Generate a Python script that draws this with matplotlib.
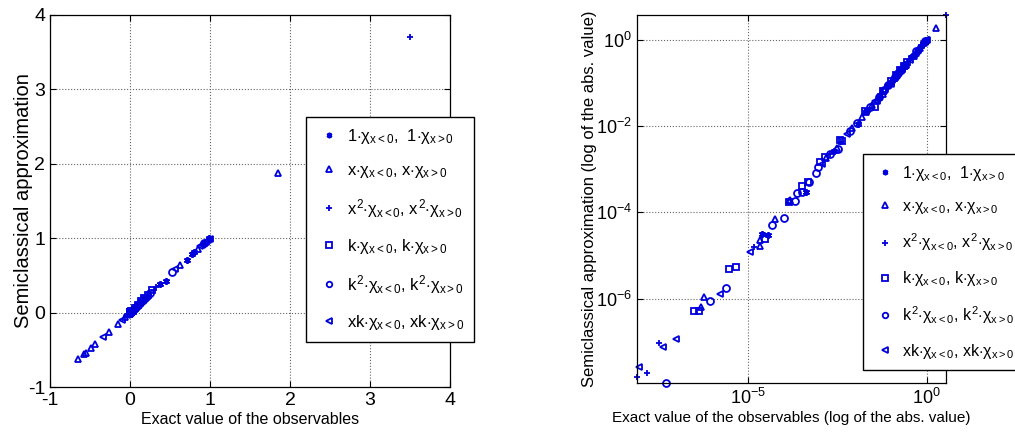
import numpy as np
import matplotlib
matplotlib.use("Agg")
import matplotlib.pyplot as plt

plt.rcParams["font.family"] = ["Liberation Sans", "DejaVu Sans"]
plt.rcParams["mathtext.fontset"] = "custom"
plt.rcParams["mathtext.rm"] = "Liberation Sans"
plt.rcParams["mathtext.it"] = "Liberation Sans"
plt.rcParams["mathtext.bf"] = "Liberation Sans:bold"
plt.rcParams["axes.unicode_minus"] = False

# exact value / semiclassical approximation for each observable family
one_exact = [2.4e-5, 3.5e-5, 4.2e-4, 0.0025, 0.012, 0.022, 0.05, 0.08, 0.12,
             0.17, 0.21, 0.375, 0.45, 0.71, 0.78, 0.80, 0.93, 0.99]
one_approx = [3.2e-5, 3.0e-5, 3.0e-4, 0.0027, 0.011, 0.024, 0.052, 0.083,
              0.125, 0.18, 0.215, 0.39, 0.43, 0.71, 0.79, 0.81, 0.94, 1.0]

x_exact = [-0.646, -0.575, -0.555, -0.49, -0.44, -0.26, -0.15, -0.06, -0.02,
           4.6e-7, 5.9e-7, 2.2e-5, 2.1e-5, 5.6e-5, 1.35e-4, 1.5e-4, 0.0015,
           0.003, 0.008, 0.015, 0.03, 0.045, 0.07, 0.09, 0.11, 0.13, 0.16,
           0.2, 0.24, 0.62, 0.85, 1.85]
x_approx = [-0.626, -0.56, -0.545, -0.48, -0.42, -0.26, -0.15, -0.055, -0.021,
            6.5e-7, 1.1e-6, 1.7e-5, 2.3e-5, 6.9e-5, 1.8e-4, 1.9e-4, 0.0018,
            0.0031, 0.009, 0.016, 0.031, 0.047, 0.072, 0.095, 0.115, 0.14,
            0.165, 0.21, 0.25, 0.64, 0.86, 1.87]

x2_exact = [7.6e-9, 1.48e-8, 3.1e-8, 1.41e-5, 0.002, 0.004, 0.02, 0.055,
            0.09, 0.14, 0.30, 0.33, 0.97, 3.5]
x2_approx = [1.55e-8, 1.9e-8, 9.5e-8, 1.58e-5, 0.0022, 0.0042, 0.021, 0.057,
             0.092, 0.145, 0.31, 0.34, 0.98, 3.7]

k_exact = [2.95e-7, 4.1e-7, 2.95e-6, 4.6e-6, 2.95e-5, 1.35e-4, 3.2e-4,
           4.8e-4, 1.0e-3, 1.4e-3, 4.2e-3, 3.7e-3, 0.0186, 0.035, 0.06,
           0.10, 0.14, 0.178, 0.23, 0.28]
k_approx = [5.2e-7, 5.2e-7, 4.8e-6, 5.5e-6, 2.4e-5, 1.7e-4, 4.0e-4,
            5.1e-4, 1.5e-3, 1.95e-3, 4.4e-3, 4.8e-3, 0.022, 0.028, 0.064,
            0.107, 0.15, 0.20, 0.24, 0.30]

k2_exact = [4.8e-8, 8.3e-7, 2.45e-6, 4.6e-5, 9.8e-5, 2.0e-4, 2.3e-4, 3.2e-4,
            5.0e-4, 7.9e-4, 9.1e-4, 2.0e-3, 3.3e-3, 0.007, 0.011, 0.026,
            0.045, 0.065, 0.085, 0.13, 0.16, 0.19, 0.25, 0.52, 0.93]
k2_approx = [1.12e-8, 8.9e-7, 1.74e-6, 5.2e-5, 7.2e-5, 1.8e-4, 2.75e-4,
             3.0e-4, 5.1e-4, 8.3e-4, 1.15e-3, 2.2e-3, 3.0e-3, 0.0075, 0.012,
             0.027, 0.047, 0.068, 0.088, 0.135, 0.17, 0.2, 0.26, 0.54, 0.94]

xk_exact = [8.7e-9, 4.1e-8, 9.5e-8, 1.66e-6, 1.1e-5, -0.34, -0.1, -0.04,
            0.0012, 0.006, 0.02, 0.035, 0.06, 0.1, 0.15, 0.2, 0.56, 0.88,
            0.90, 0.92, 0.95, 0.97, 1.0]
xk_approx = [2.6e-8, 7.6e-8, 1.15e-7, 1.32e-6, 1.23e-5, -0.33, -0.095,
             -0.038, 0.0013, 0.0065, 0.022, 0.037, 0.063, 0.105, 0.16, 0.21,
             0.58, 0.89, 0.91, 0.93, 0.955, 0.975, 0.995]

labels = [
    r"$1{\cdot}\chi_{x<0}$,  $1{\cdot}\chi_{x>0}$",
    r"$x{\cdot}\chi_{x<0}$, $x{\cdot}\chi_{x>0}$",
    r"$x^2{\cdot}\chi_{x<0}$, $x^2{\cdot}\chi_{x>0}$",
    r"$k{\cdot}\chi_{x<0}$, $k{\cdot}\chi_{x>0}$",
    r"$k^2{\cdot}\chi_{x<0}$, $k^2{\cdot}\chi_{x>0}$",
    r"$xk{\cdot}\chi_{x<0}$, $xk{\cdot}\chi_{x>0}$",
]

ASTERISK = (6, 2, 0)
series = [
    (one_exact, one_approx, ASTERISK),
    (x_exact, x_approx, "^"),
    (x2_exact, x2_approx, "+"),
    (k_exact, k_approx, "s"),
    (k2_exact, k2_approx, "o"),
    (xk_exact, xk_approx, "<"),
]

BLUE = "#0000dd"


def style_axes(ax, size):
    ax.grid(True, linestyle=":", color="0.4", linewidth=0.8)
    ax.tick_params(direction="in", top=True, right=True, labelsize=size,
                   length=4, width=0.8)
    for sp in ax.spines.values():
        sp.set_linewidth(0.9)


def plot_panel(ax, log=False):
    for (ex, ap, m), lab in zip(series, labels):
        ex = np.asarray(ex)
        ap = np.asarray(ap)
        if log:
            ex, ap = np.abs(ex), np.abs(ap)
        ax.plot(ex, ap, linestyle="none", marker=m, markersize=5,
                markerfacecolor="none", markeredgecolor=BLUE,
                markeredgewidth=1.3, label=lab, clip_on=False)


def add_legend(ax, x0, y0, size, spacing):
    ax.legend(loc="upper left", bbox_to_anchor=(x0 / 1015, 1 - y0 / 440),
              bbox_transform=fig.transFigure, fontsize=size, numpoints=1,
              handlelength=1.5, handletextpad=0.35, labelspacing=spacing,
              borderpad=0.6, fancybox=False, edgecolor="k", framealpha=1,
              borderaxespad=0, markerscale=0.8)


fig = plt.figure(figsize=(10.15, 4.4), dpi=100)

# left panel, linear
ax1 = fig.add_axes([50 / 1015, 1 - 387 / 440, 400 / 1015, 372 / 440])
plot_panel(ax1)
ax1.set_xlim(-1, 4)
ax1.set_ylim(-1, 4)
ax1.set_xticks([-1, 0, 1, 2, 3, 4])
ax1.set_yticks([-1, 0, 1, 2, 3, 4])
style_axes(ax1, 14)
ax1.set_xlabel("Exact value of the observables", fontsize=11.5, labelpad=2)
ax1.set_ylabel("Semiclassical approximation", fontsize=14.5)
ax1.yaxis.set_label_coords(-17 / 400, 0.5)
add_legend(ax1, 306, 117, 12, 1.02)

# right panel, log of absolute values
ax2 = fig.add_axes([637 / 1015, 1 - 383 / 440, 309 / 1015, 368 / 440])
plot_panel(ax2, log=True)
ax2.set_xscale("log")
ax2.set_yscale("log")
all_x = np.abs(np.concatenate([np.asarray(s[0]) for s in series]))
all_y = np.abs(np.concatenate([np.asarray(s[1]) for s in series]))
ax2.set_xlim(all_x.min(), all_x.max())
ax2.set_ylim(all_y.min(), all_y.max())
ax2.set_xticks([1e-5, 1e0])
ax2.set_yticks([1e-6, 1e-4, 1e-2, 1e0])
ax2.minorticks_off()
style_axes(ax2, 13)
ax2.set_xlabel("Exact value of the observables (log of the abs. value)",
               fontsize=11, labelpad=2)
ax2.set_ylabel("Semiclassical approximation (log of the abs. value)",
               fontsize=12)
ax2.yaxis.set_label_coords(-40 / 309, 0.5)
add_legend(ax2, 863, 154, 11.5, 1.0)

fig.savefig("out.png", dpi=100)
